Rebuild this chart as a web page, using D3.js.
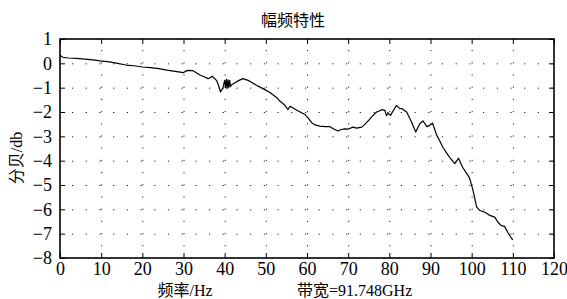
<!DOCTYPE html>
<html>
<head>
<meta charset="utf-8">
<script src="https://cdn.jsdelivr.net/npm/d3@7"></script>
<style>
  body { margin: 0; background: #fff; }
  text { fill: #000; }
</style>
</head>
<body>
<div id="chart"></div>
<script>
// amplitude-frequency response
const freq = [0, 0.7, 2, 4, 6, 8, 9.7, 12, 14, 16, 18, 20, 22, 24, 26, 28, 30, 30.5, 31, 32.3,
  33, 34, 35, 36, 37, 38, 38.4, 39, 39.6, 40, 40.2, 40.4, 40.6, 40.8, 41, 41.2, 41.4, 41.7,
  42.5, 43.5, 44.4, 45.7, 46.5, 47.7, 49.3, 51, 52.6, 53.4, 54.5, 55.4, 55.8, 56.3, 57, 58,
  59.5, 60.3, 61.2, 62, 63.1, 64.5, 65.5, 66.5, 67.5, 68.3, 69.2, 70, 71.2, 72, 73.3, 74,
  75.2, 75.7, 76.9, 77.7, 78.2, 78.9, 79.3, 79.7, 80.3, 80.9, 81.7, 82.5, 83, 84.2, 85.4,
  86.4, 87.4, 88.2, 89.1, 89.8, 90.5, 91.5, 92.2, 93, 93.9, 94.8, 95.9, 96.8, 97.8, 98.7,
  99.5, 100.3, 101.2, 102, 103.2, 104, 104.4, 105.6, 106.4, 107.2, 108, 108.8, 109.7, 110];
const db = [0.33, 0.25, 0.22, 0.2, 0.17, 0.14, 0.1, 0.06, 0.0, -0.07, -0.1, -0.15, -0.18, -0.22, -0.28, -0.33, -0.38, -0.33, -0.29, -0.3,
  -0.38, -0.48, -0.55, -0.63, -0.53, -0.7, -0.85, -1.18, -0.99, -0.7, -1.0, -0.66, -1.03, -0.68, -1.0, -0.7, -0.95, -0.88,
  -0.8, -0.7, -0.63, -0.7, -0.78, -0.9, -1.04, -1.2, -1.4, -1.55, -1.7, -1.9, -1.77, -1.8, -1.88, -1.97,
  -2.1, -2.25, -2.45, -2.53, -2.58, -2.6, -2.6, -2.7, -2.78, -2.72, -2.69, -2.7, -2.62, -2.66, -2.62, -2.52,
  -2.3, -2.2, -2.0, -1.95, -1.9, -1.93, -2.15, -2.05, -2.14, -1.96, -1.73, -1.85, -1.86, -2.0, -2.41,
  -2.82, -2.48, -2.37, -2.6, -2.55, -2.46, -2.95, -3.17, -3.45, -3.68, -3.9, -4.12, -3.9, -4.27, -4.5,
  -4.72, -5.2, -5.9, -6.05, -6.12, -6.2, -6.25, -6.32, -6.53, -6.67, -6.7, -6.95, -7.2, -7.25];

const xTicks = [0, 10, 20, 30, 40, 50, 60, 70, 80, 90, 100, 110, 120];
const yTicks = [1, 0, -1, -2, -3, -4, -5, -6, -7, -8];

const title = "幅频特性";
const xLabel = "频率/Hz";
const bwLabel = "带宽=91.748GHz";
const yLabel = "分贝/db";

const w = 567, h = 299;
const pLeft = 60, pRight = 554, pTop = 39, pBottom = 258;
const serif = "'Liberation Serif', 'Noto Sans CJK SC', serif";

const svg = d3.select("#chart").append("svg")
  .attr("width", w)
  .attr("height", h);

const xScale = d3.scaleLinear().domain([0, 120]).range([pLeft, pRight]);
const yScale = d3.scaleLinear().domain([-8, 1]).range([pBottom, pTop]);

// dotted grid
svg.append("g").selectAll("line")
  .data(yTicks.slice(1, -1))
  .enter().append("line")
  .attr("x1", pLeft).attr("x2", pRight)
  .attr("y1", d => yScale(d) + 0.5).attr("y2", d => yScale(d) + 0.5)
  .attr("stroke", "#222")
  .attr("stroke-width", 1)
  .attr("stroke-dasharray", "1.2,12.5")
  .attr("stroke-dashoffset", -12);

svg.append("g").selectAll("line")
  .data(xTicks.slice(1, -1))
  .enter().append("line")
  .attr("x1", d => xScale(d) + 0.5).attr("x2", d => xScale(d) + 0.5)
  .attr("y1", pTop).attr("y2", pBottom)
  .attr("stroke", "#222")
  .attr("stroke-width", 1)
  .attr("stroke-dasharray", "1.2,11")
  .attr("stroke-dashoffset", -11);

// axes with inward ticks
const xAxis = d3.axisBottom(xScale).tickValues(xTicks).tickSize(-5).tickPadding(4);
const yAxis = d3.axisLeft(yScale).tickValues(yTicks).tickSize(-5).tickPadding(8);

svg.append("g")
  .attr("transform", "translate(0," + pBottom + ")")
  .call(xAxis)
  .call(g => g.select(".domain").remove());
svg.append("g")
  .attr("transform", "translate(" + pLeft + ",0)")
  .call(yAxis)
  .call(g => g.select(".domain").remove());
svg.append("g")
  .attr("transform", "translate(0," + pTop + ")")
  .call(d3.axisTop(xScale).tickValues(xTicks).tickSize(-5).tickFormat(""))
  .call(g => g.select(".domain").remove());
svg.append("g")
  .attr("transform", "translate(" + pRight + ",0)")
  .call(d3.axisRight(yScale).tickValues(yTicks).tickSize(-5).tickFormat(""))
  .call(g => g.select(".domain").remove());

svg.selectAll(".tick line").attr("stroke", "#000").attr("stroke-width", 1);
svg.selectAll(".tick text")
  .attr("fill", "#000")
  .style("font-family", serif)
  .style("font-size", "18px");

// frame
svg.append("rect")
  .attr("x", pLeft).attr("y", pTop)
  .attr("width", pRight - pLeft).attr("height", pBottom - pTop)
  .attr("fill", "none")
  .attr("stroke", "#000")
  .attr("stroke-width", 1.6);

// the response curve
const line = d3.line()
  .x((d, i) => xScale(freq[i]))
  .y(d => yScale(d));

svg.append("path")
  .datum(db)
  .attr("d", line)
  .attr("fill", "none")
  .attr("stroke", "#000")
  .attr("stroke-width", 1.2)
  .attr("stroke-linejoin", "round");

// labels
function label(txt, x, y, anchor, rot) {
  return svg.append("text")
    .attr("transform", "translate(" + x + "," + y + ")" + (rot ? " rotate(" + rot + ")" : ""))
    .attr("text-anchor", anchor)
    .style("font-family", serif)
    .style("font-size", "16px")
    .text(txt);
}
label(title, 293, 26, "middle");
label(xLabel, 185, 296, "middle");
label(bwLabel, 297, 296, "start");
label(yLabel, 22, 158, "middle", -90);
</script>
</body>
</html>
